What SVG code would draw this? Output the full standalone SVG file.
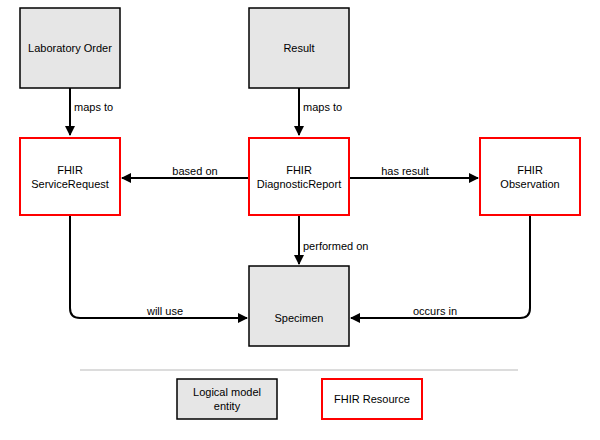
<svg xmlns="http://www.w3.org/2000/svg" width="600" height="440" viewBox="0 0 600 440">
<defs>
<style>
text{font-family:"Liberation Sans",Arial,sans-serif;font-size:11px;fill:#000}
.g{fill:#e6e6e6;stroke:#000;stroke-width:1.5}
.r{fill:#fff;stroke:#ff0000;stroke-width:2}
.c{fill:none;stroke:#000;stroke-width:2}
.m{text-anchor:middle}
</style>
<marker id="a" viewBox="0 0 10 10" refX="9" refY="5" markerWidth="5" markerHeight="5" orient="auto"><path d="M0,0L10,5L0,10z" fill="#000"/></marker>
</defs>
<rect width="600" height="440" fill="#fff"/>
<g id="connectors">
<path class="c" d="M70,88V135" marker-end="url(#a)"/>
<path class="c" d="M299,88V135" marker-end="url(#a)"/>
<path class="c" d="M249,178H122" marker-end="url(#a)"/>
<path class="c" d="M349,178H478" marker-end="url(#a)"/>
<path class="c" d="M299,215V264" marker-end="url(#a)"/>
<path class="c" d="M70,215V308Q70,318 80,318H247" marker-end="url(#a)"/>
<path class="c" d="M530,215V308Q530,318 520,318H351" marker-end="url(#a)"/>
<text x="74" y="111">maps to</text>
<text x="303" y="111">maps to</text>
<text class="m" x="195" y="175">based on</text>
<text class="m" x="405" y="175">has result</text>
<text x="303" y="250">performed on</text>
<text class="m" x="165" y="315">will use</text>
<text class="m" x="435" y="315">occurs in</text>
</g>
<g id="labOrder"><rect class="g" x="20" y="8" width="100" height="80"/><text class="m" x="70" y="52">Laboratory Order</text></g>
<g id="result"><rect class="g" x="249" y="8" width="100" height="80"/><text class="m" x="299" y="52">Result</text></g>
<g id="serviceRequest"><rect class="r" x="20" y="138" width="100" height="77"/><text class="m" x="70" y="174">FHIR</text><text class="m" x="70" y="188">ServiceRequest</text></g>
<g id="diagnosticReport"><rect class="r" x="249" y="138" width="100" height="77"/><text class="m" x="299" y="174">FHIR</text><text class="m" x="299" y="188">DiagnosticReport</text></g>
<g id="observation"><rect class="r" x="480" y="138" width="100" height="77"/><text class="m" x="530" y="174">FHIR</text><text class="m" x="530" y="188">Observation</text></g>
<g id="specimen"><rect class="g" x="249" y="266" width="100" height="80"/><text class="m" x="299" y="322">Specimen</text></g>
<line x1="80" y1="370" x2="518" y2="370" stroke="#d0d0d0" stroke-width="1.5"/>
<g id="legendLogical"><rect class="g" x="177" y="379" width="100" height="40"/><text class="m" x="227" y="396">Logical model</text><text class="m" x="227" y="410">entity</text></g>
<g id="legendFhir"><rect class="r" x="322" y="379" width="100" height="40"/><text class="m" x="372" y="403">FHIR Resource</text></g>
</svg>
